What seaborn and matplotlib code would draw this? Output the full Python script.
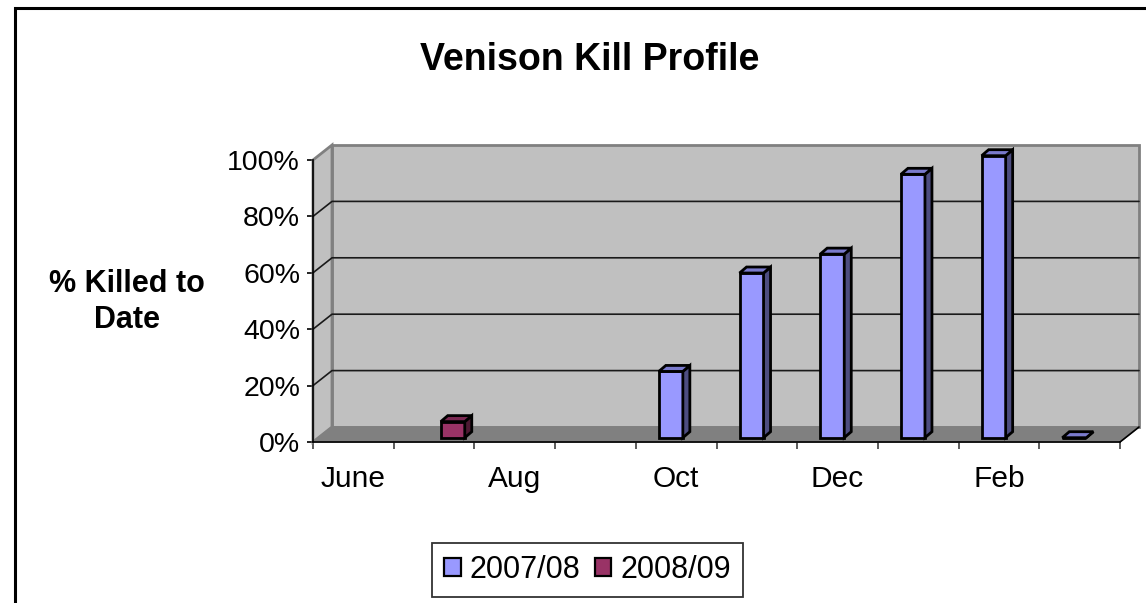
import seaborn as sns
import matplotlib.pyplot as plt
import pandas as pd
from matplotlib.patches import Polygon, Rectangle
from matplotlib.lines import Line2D
from matplotlib.transforms import Affine2D

sns.set_theme(style="white")
plt.rcParams['font.family'] = ['Liberation Sans', 'DejaVu Sans']
plt.rcParams['text.color'] = 'black'

months = ['June', 'July', 'Aug', 'Sep', 'Oct', 'Nov', 'Dec', 'Jan', 'Feb', 'Mar']
tick_labels = ['June', '', 'Aug', '', 'Oct', '', 'Dec', '', 'Feb', '']
series_names = ['2007/08', '2008/09']
kill_0708 = [None, None, None, None, 0.235, 0.584, 0.651, 0.934, 1.0, 0.0]
kill_0809 = [None, 0.057, None, None, None, None, None, None, None, None]
face_colors = ['#9999FF', '#993366']
side_colors = ['#4D4D80', '#4D1A33']
top_colors = ['#7A7ACC', '#7A2952']

W, H = 1146, 603
df = pd.DataFrame({
    'month': months * 2,
    'series': [series_names[0]] * 10 + [series_names[1]] * 10,
    'killed': pd.to_numeric(pd.Series(kill_0708 + kill_0809)),
})

fig = plt.figure(figsize=(W / 100, H / 100), dpi=100, facecolor='white')
# front plane of the fake 3D box
ax = fig.add_axes([313 / W, 1 - 442 / H, 807 / W, 282 / H])
ax.patch.set_alpha(0)

# chart border, only left and top are inside the picture
fig.add_artist(Line2D([14.5 / W, 14.5 / W, 1], [0, 1 - 7.5 / H, 1 - 7.5 / H], transform=fig.transFigure,
                      color='black', linewidth=2.2, solid_joinstyle='miter'))

sns.barplot(data=df, x='month', y='killed', hue='series', order=months, hue_order=series_names,
            palette=face_colors, width=0.595, edgecolor='black', linewidth=2, saturation=1,
            ax=ax, zorder=5)
ax.set_xlim(-0.5, 9.5)
ax.set_ylim(0, 1)

# depth of the box, in data units
dx = 19 / 80.7
dy = 15 / 282
x0, x1 = -0.5, 9.5

wall_back = Rectangle((x0 + dx, dy), x1 - x0, 1, facecolor='#C0C0C0', edgecolor='#808080', linewidth=2, zorder=1, clip_on=False)
ax.add_patch(wall_back)
wall_left = Polygon([(x0, 0), (x0 + dx, dy), (x0 + dx, 1 + dy), (x0, 1)], facecolor='#C0C0C0', edgecolor='#808080',
                    linewidth=2, zorder=1, clip_on=False)
ax.add_patch(wall_left)
floor = Polygon([(x0, 0), (x1, 0), (x1 + dx, dy), (x0 + dx, dy)], facecolor='#808080', edgecolor='#808080',
                linewidth=1, zorder=2, clip_on=False)
ax.add_patch(floor)

for g in [0.2, 0.4, 0.6, 0.8]:
    ax.add_line(Line2D([x0, x0 + dx, x1 + dx], [g, g + dy, g + dy], color='#1a1a1a', linewidth=1.2, zorder=3, clip_on=False))
ax.add_line(Line2D([x1, x1 + dx], [0, dy], color='black', linewidth=1.2, zorder=3, clip_on=False))

# bars sit a little inside the floor, side and top faces added from the bar sizes
shift = ax.transData + Affine2D().translate(6.7, 4.3)
bar_dx = 7 / 80.7
bar_dy = 6 / 282
for i, cont in enumerate(ax.containers):
    for bar in cont:
        h = bar.get_height()
        if pd.isna(h):
            bar.set_visible(False)
            continue
        bar.set_transform(shift)
        bar.set_clip_on(False)
        bx, bw = bar.get_x(), bar.get_width()
        side = Polygon([(bx + bw, 0), (bx + bw + bar_dx, bar_dy), (bx + bw + bar_dx, h + bar_dy), (bx + bw, h)],
                       facecolor=side_colors[i], edgecolor='black', linewidth=2, transform=shift, zorder=5, clip_on=False)
        top = Polygon([(bx, h), (bx + bw, h), (bx + bw + bar_dx, h + bar_dy), (bx + bar_dx, h + bar_dy)],
                      facecolor=top_colors[i], edgecolor='black', linewidth=2, transform=shift, zorder=5, clip_on=False)
        ax.add_patch(side)
        ax.add_patch(top)

for s in ['top', 'right']:
    ax.spines[s].set_visible(False)
for s in ['left', 'bottom']:
    ax.spines[s].set_color('black')
    ax.spines[s].set_linewidth(1.2)
    ax.spines[s].set_zorder(4)

ax.set_yticks([0, 0.2, 0.4, 0.6, 0.8, 1.0])
ax.set_yticklabels(['0%', '20%', '40%', '60%', '80%', '100%'], fontsize=20.5, color='black')
ax.set_xticks(range(10))
ax.set_xticklabels(tick_labels, fontsize=21.5, color='black')
ax.set_xticks([x0 + k for k in range(11)], minor=True)
ax.tick_params(axis='x', which='major', length=0, pad=16.5)
ax.tick_params(axis='x', which='minor', length=5, width=1.2, color='#404040', bottom=True)
ax.tick_params(axis='y', length=4.3, width=1.2, color='black', left=True, pad=5)

ax.set_xlabel('')
ax.set_ylabel('% Killed to\nDate', fontsize=22, fontweight='bold', rotation=0, color='black', ha='center', va='center',
              linespacing=1.3)
ax.yaxis.set_label_coords((127 - 313) / 807, (442 - 302) / 282)

fig.text(590 / W, 1 - 60 / H, 'Venison Kill Profile', fontsize=27, fontweight='bold', color='black', ha='center', va='center')

leg = ax.legend(ncol=2, loc='center', bbox_to_anchor=((587.5 - 313) / 807, -(570 - 442) / 282), fontsize=22,
                frameon=True, fancybox=False, edgecolor='#333333', framealpha=1, handlelength=0.55, handleheight=0.55,
                columnspacing=0.46, handletextpad=0.3, borderpad=0.38)
leg.get_frame().set_linewidth(1.3)
for patch in leg.get_patches():
    patch.set_linewidth(1.6)

fig.savefig('out.png', dpi=100)
